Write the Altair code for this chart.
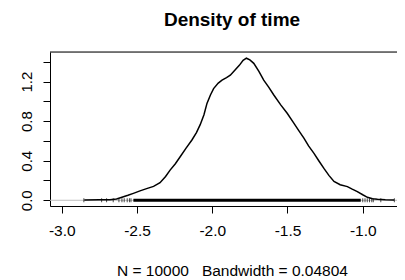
import altair as alt
import pandas as pd

# density curve
curve_x = [-2.85, -2.75, -2.68, -2.636, -2.60, -2.56, -2.524, -2.48, -2.436, -2.39,
           -2.347, -2.31, -2.28, -2.245, -2.213, -2.175, -2.135, -2.105, -2.08, -2.055,
           -2.035, -2.012, -1.991, -1.96, -1.935, -1.905, -1.88, -1.85, -1.82, -1.795,
           -1.773, -1.75, -1.724, -1.69, -1.658, -1.625, -1.591, -1.545, -1.502, -1.458,
           -1.425, -1.391, -1.36, -1.324, -1.29, -1.258, -1.225, -1.191, -1.15, -1.102,
           -1.07, -1.036, -1.0, -0.969, -0.935, -0.902, -0.85, -0.791]
curve_y = [0.002, 0.004, 0.006, 0.012, 0.03, 0.05, 0.07, 0.095, 0.118, 0.14,
           0.177, 0.24, 0.305, 0.37, 0.44, 0.525, 0.61, 0.685, 0.765, 0.865,
           0.98, 1.065, 1.13, 1.185, 1.215, 1.24, 1.265, 1.315, 1.365, 1.415,
           1.437, 1.42, 1.385, 1.305, 1.215, 1.145, 1.065, 0.965, 0.88, 0.78,
           0.705, 0.628, 0.55, 0.475, 0.395, 0.322, 0.252, 0.19, 0.157, 0.138,
           0.112, 0.088, 0.056, 0.03, 0.015, 0.01, 0.005, 0.002]

# rug: dense band and sparse individual observations
rug_band_start = [-2.524]
rug_band_end = [-1.013]
rug_points = [-2.853, -2.735, -2.702, -2.658, -2.62, -2.60, -2.585, -2.565, -2.55, -2.54,
              -1.0, -0.985, -0.97, -0.955, -0.94, -0.93, -0.88, -0.79]

x_ticks = [-3.0, -2.5, -2.0, -1.5, -1.0]
y_ticks = [0.0, 0.2, 0.4, 0.6, 0.8, 1.0, 1.2, 1.4]
y_labels = ["0.0", "0.4", "0.8", "1.2"]

title_text = "Density of time"
xlab_text = "N = 10000\u00a0\u00a0\u00a0Bandwidth = 0.04804"

FONT = "Liberation Sans"
W, H = 347, 154

xs = alt.Scale(domain=[-3.078, -0.7724], nice=False, zero=False)
ys = alt.Scale(domain=[-0.058, 1.50], nice=False, zero=False)

curve_df = pd.DataFrame({"x": curve_x, "y": curve_y})
band_df = pd.DataFrame({"x": rug_band_start, "x2": rug_band_end, "y": [0.0]})
pts_df = pd.DataFrame({"x": rug_points, "y": [0.0] * len(rug_points)})
zero_df = pd.DataFrame({"y": [0.0]})

label_list = "[" + ",".join("'%s'" % s for s in y_labels) + "]"

xaxis = alt.Axis(
    values=x_ticks, tickSize=7, tickColor="black", domainColor="black",
    labelFont=FONT, labelFontSize=15.5, labelColor="black", labelPadding=10,
    labelExpr="replace(format(datum.value, '.1f'), '\u2212', '-')",
    grid=False, title=xlab_text, titleFont=FONT, titleFontSize=15.5,
    titleFontWeight="normal", titleColor="black", titleX=182, titleY=69,
    titleAlign="center", titleBaseline="alphabetic",
)
yaxis = alt.Axis(
    values=y_ticks, tickSize=7, tickColor="black", domainColor="black",
    labelFont=FONT, labelFontSize=15, labelColor="black", labelPadding=12,
    labelAngle=270, labelAlign="center", labelBaseline="alphabetic",
    labelExpr="indexof(" + label_list + ", format(datum.value, '.1f')) >= 0 ? format(datum.value, '.1f') : ''",
    grid=False, title=None,
)

curve = alt.Chart(curve_df).mark_line(color="black", strokeWidth=1.5).encode(
    x=alt.X("x:Q", scale=xs, axis=xaxis),
    y=alt.Y("y:Q", scale=ys, axis=yaxis),
    order="x:Q",
)

zero_line = alt.Chart(zero_df).mark_rule(color="#bebebe", strokeWidth=1).encode(
    y=alt.Y("y:Q", scale=ys, axis=yaxis)
)

band = alt.Chart(band_df).mark_rule(color="black", strokeWidth=3).encode(
    x=alt.X("x:Q", scale=xs, axis=xaxis), x2="x2:Q", y=alt.Y("y:Q", scale=ys, axis=yaxis)
)

pts = alt.Chart(pts_df).mark_tick(color="black", thickness=1, size=4, orient="vertical").encode(
    x=alt.X("x:Q", scale=xs, axis=xaxis), y=alt.Y("y:Q", scale=ys, axis=yaxis)
)

top_border = alt.Chart(zero_df).mark_rule(color="black", strokeWidth=1).encode(
    y=alt.value(0)
)

chart = alt.layer(zero_line, curve, band, pts, top_border).properties(
    width=W, height=H,
    title=alt.TitleParams(
        text=title_text, font=FONT, fontSize=19, fontWeight="bold", color="black",
        anchor="middle", offset=7, baseline="alphabetic", dx=8.5,
    ),
    autosize=alt.AutoSizeParams(type="none"),
    padding={"left": 42, "top": 44, "right": 0, "bottom": 74},
).configure_view(stroke=None).configure(background="white")

chart.save("out.html", embed_options={"renderer": "svg", "actions": False})
